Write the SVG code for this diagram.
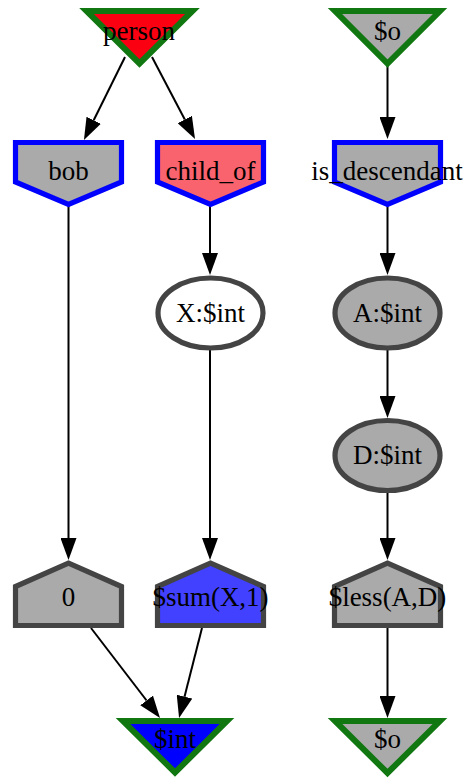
<svg xmlns="http://www.w3.org/2000/svg" width="465" height="779" viewBox="0 0 465 779">
<style>
  text { font-family: "Liberation Serif", "Times New Roman", serif; font-size: 27px; text-anchor: middle; fill: #000; }
  .tri { stroke: #117711; stroke-width: 6; stroke-linejoin: miter; }
  .inv { stroke: #0000ff; stroke-width: 5.2; stroke-linejoin: miter; }
  .dk { stroke: #444444; stroke-width: 5.2; stroke-linejoin: miter; }
  .edge { fill: none; stroke: #000; stroke-width: 2; }
</style>
<defs>
  <marker id="arr" viewBox="0 -8 22 16" markerWidth="22" markerHeight="16" refX="0" refY="0" orient="auto" markerUnits="userSpaceOnUse">
    <path d="M0,-8 L22,0 L0,8 z" fill="#000"/>
  </marker>
</defs>
<rect width="465" height="779" fill="#fff"/>
<g id="edges">
  <path class="edge" marker-end="url(#arr)" d="M125,57 L93.7,120.3"/>
  <path class="edge" marker-end="url(#arr)" d="M152,57 L184.8,119.5"/>
  <path class="edge" marker-end="url(#arr)" d="M387.5,66 L387.5,117"/>
  <path class="edge" marker-end="url(#arr)" d="M68.5,206 L68.5,538"/>
  <path class="edge" marker-end="url(#arr)" d="M210,206 L210,253"/>
  <path class="edge" marker-end="url(#arr)" d="M210,350 L210,538"/>
  <path class="edge" marker-end="url(#arr)" d="M387.5,206 L387.5,253"/>
  <path class="edge" marker-end="url(#arr)" d="M387.5,350 L387.5,396"/>
  <path class="edge" marker-end="url(#arr)" d="M387.5,493 L387.5,538"/>
  <path class="edge" marker-end="url(#arr)" d="M387.5,628 L387.5,696"/>
  <path class="edge" marker-end="url(#arr)" d="M91,628 L146.6,700.5"/>
  <path class="edge" marker-end="url(#arr)" d="M202,628 L184.5,696.7"/>
</g>
<g id="person">
  <polygon class="tri" points="86.5,11 192.5,11 139.5,63.5" fill="#fb0011"/>
  <text x="139" y="40">person</text>
</g>
<g id="o_top">
  <polygon class="tri" points="335,11 440,11 387.5,63.5" fill="#aaaaaa"/>
  <text x="387.5" y="40">$o</text>
</g>
<g id="bob">
  <polygon class="inv" points="15.5,142.5 121.5,142.5 121.5,182 68.5,204.5 15.5,182" fill="#aaaaaa"/>
  <text x="68.5" y="180">bob</text>
</g>
<g id="child_of">
  <polygon class="inv" points="157.5,142.5 263.5,142.5 263.5,182 210.5,204.5 157.5,182" fill="#f9636e"/>
  <text x="210.5" y="180">child_of</text>
</g>
<g id="is_descendant">
  <polygon class="inv" points="334.5,142.5 440.5,142.5 440.5,182 387.5,204.5 334.5,182" fill="#aaaaaa"/>
  <text x="387" y="180">is_descendant</text>
</g>
<g id="x_int">
  <ellipse class="dk" cx="210.5" cy="313" rx="52.5" ry="35" fill="#ffffff"/>
  <text x="210.5" y="322">X:$int</text>
</g>
<g id="a_int">
  <ellipse class="dk" cx="387.5" cy="313" rx="52.5" ry="35" fill="#aaaaaa"/>
  <text x="387.5" y="322">A:$int</text>
</g>
<g id="d_int">
  <ellipse class="dk" cx="387.5" cy="455.5" rx="52.5" ry="35" fill="#aaaaaa"/>
  <text x="387.5" y="464">D:$int</text>
</g>
<g id="zero">
  <polygon class="dk" points="15.5,625.5 121.5,625.5 121.5,586.5 68.5,563 15.5,586.5" fill="#aaaaaa"/>
  <text x="68.5" y="606">0</text>
</g>
<g id="sum">
  <polygon class="dk" points="157.5,625.5 263.5,625.5 263.5,586.5 210.5,563 157.5,586.5" fill="#4141ff"/>
  <text x="210.5" y="606">$sum(X,1)</text>
</g>
<g id="less">
  <polygon class="dk" points="334.5,625.5 440.5,625.5 440.5,586.5 387.5,563 334.5,586.5" fill="#aaaaaa"/>
  <text x="387.5" y="606">$less(A,D)</text>
</g>
<g id="int">
  <polygon class="tri" points="123,721 227,721 175,772.5" fill="#0000ff"/>
  <text x="175" y="748">$int</text>
</g>
<g id="o_bottom">
  <polygon class="tri" points="335,721 440,721 387.5,773" fill="#aaaaaa"/>
  <text x="387.5" y="748">$o</text>
</g>
</svg>
